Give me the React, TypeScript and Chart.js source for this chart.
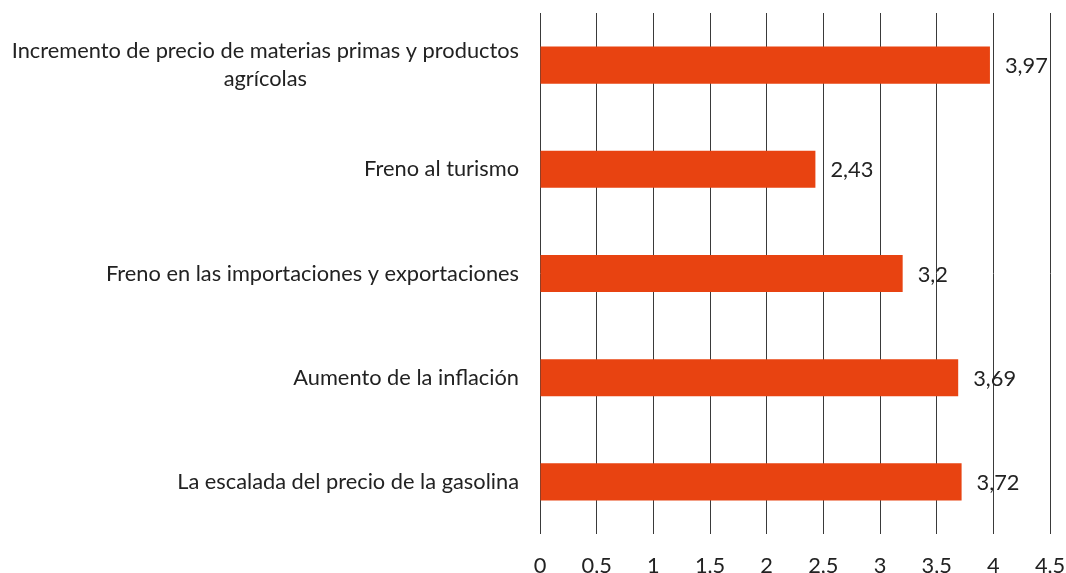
import React, { useEffect, useRef } from "react";
import { Chart, registerables } from "chart.js";

Chart.register(...registerables);

const categories: (string | string[])[] = [
  ["Incremento de precio de materias primas y productos", "agrícolas"],
  "Freno al turismo",
  "Freno en las importaciones y exportaciones",
  "Aumento de la inflación",
  "La escalada del precio de la gasolina",
];
const values: number[] = [3.97, 2.43, 3.2, 3.69, 3.72];
const xMin = 0;
const xMax = 4.5;
const xStep = 0.5;

const FONT = "Lato, 'Open Sans', sans-serif";
const FONT_SIZE = 21.8;
const TEXT_COLOR = "#222222";
const BAR_COLOR = "#E84311";

const fmt = (v: number) => String(v).replace(".", ",");

const valueLabels = {
  id: "valueLabels",
  afterDatasetsDraw(chart: any) {
    const ctx = chart.ctx;
    const meta = chart.getDatasetMeta(0);
    ctx.save();
    ctx.font = `${FONT_SIZE}px ${FONT}`;
    ctx.fillStyle = TEXT_COLOR;
    ctx.textAlign = "left";
    ctx.textBaseline = "middle";
    meta.data.forEach((bar: any, i: number) => {
      ctx.fillText(fmt(values[i]), bar.x + 15, bar.y + 1);
    });
    ctx.restore();
  },
};

const yLabels = {
  id: "yLabels",
  afterDraw(chart: any) {
    const ctx = chart.ctx;
    const yScale = chart.scales.y;
    const right = chart.chartArea.left - 21;
    const lineH = 28;
    ctx.save();
    ctx.font = `${FONT_SIZE}px ${FONT}`;
    ctx.fillStyle = TEXT_COLOR;
    ctx.textBaseline = "middle";
    ctx.textAlign = "center";
    categories.forEach((c, i) => {
      const lines = Array.isArray(c) ? c : [c];
      const w = Math.max(...lines.map((l) => ctx.measureText(l).width));
      const cx = right - w / 2;
      const yc = yScale.getPixelForTick(i);
      const y0 = yc - ((lines.length - 1) * lineH) / 2;
      lines.forEach((l, k) => ctx.fillText(l, cx, y0 + k * lineH));
    });
    ctx.restore();
  },
};

export default function App() {
  const ref = useRef<HTMLCanvasElement | null>(null);
  useEffect(() => {
    if (!ref.current) return;
    const chart = new Chart(ref.current, {
      type: "bar",
      data: {
        labels: categories as any,
        datasets: [
          {
            data: values,
            backgroundColor: BAR_COLOR,
            borderWidth: 0,
            categoryPercentage: 0.8,
            barPercentage: 0.445,
          },
        ],
      },
      options: {
        indexAxis: "y",
        animation: false,
        responsive: true,
        maintainAspectRatio: false,
        layout: { padding: { top: 13, right: 16, left: 0, bottom: 0 } },
        plugins: { legend: { display: false }, tooltip: { enabled: false } },
        scales: {
          x: {
            min: xMin,
            max: xMax,
            ticks: {
              stepSize: xStep,
              padding: 19,
              color: TEXT_COLOR,
              font: { family: FONT, size: FONT_SIZE },
              callback: (v: any) => fmt(Number(v)),
            },
            grid: { color: "#3a3a3a", lineWidth: 1, drawTicks: false },
            border: { display: false },
            afterFit: (s: any) => {
              s.height = 39;
              s.paddingLeft = 0;
              s.paddingRight = 0;
            },
          },
          y: {
            ticks: { display: false },
            grid: { display: false },
            border: { display: false },
            afterFit: (s: any) => {
              s.width = 540;
              s.paddingTop = 0;
              s.paddingBottom = 0;
            },
          },
        },
      },
      plugins: [valueLabels, yLabels],
    });
    return () => chart.destroy();
  }, []);
  return (
    <div style={{ position: "fixed", left: 0, top: 0, width: 1066, height: 573, background: "#fff" }}>
      <canvas ref={ref} />
    </div>
  );
}
